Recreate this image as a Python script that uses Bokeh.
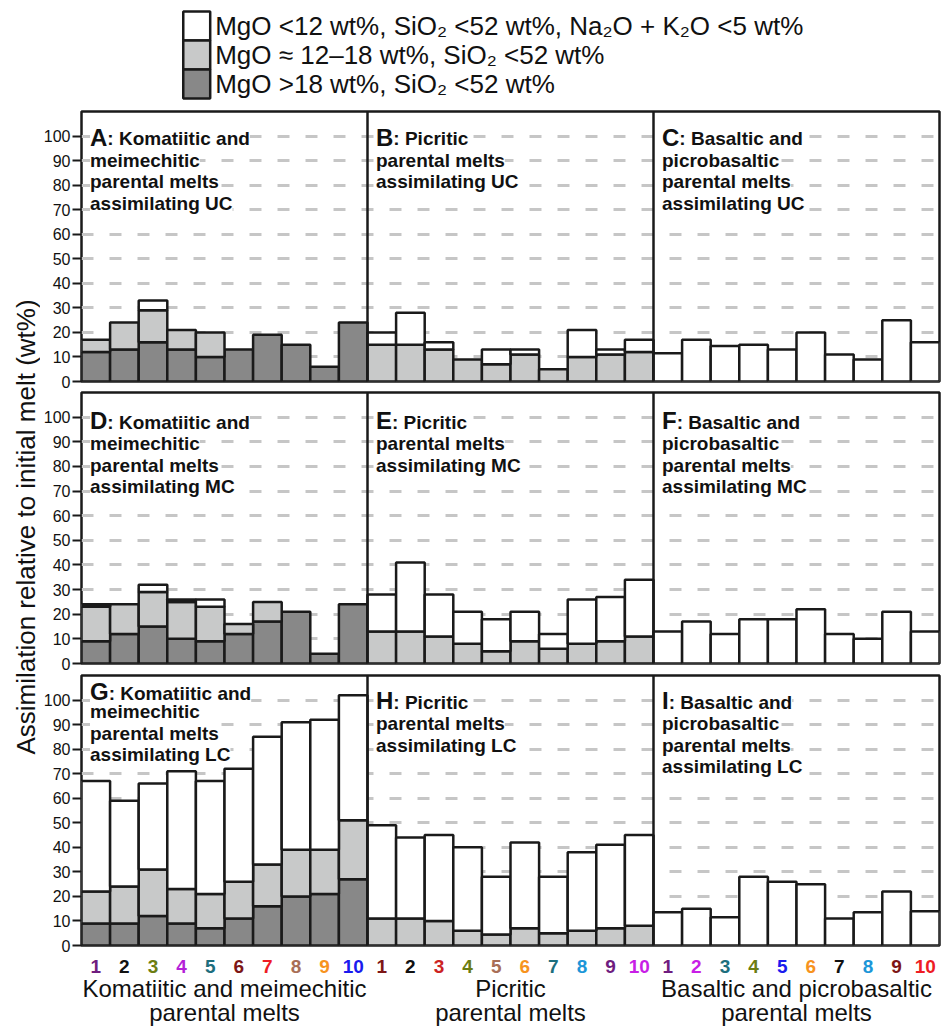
import numpy as np
from bokeh.plotting import figure
from bokeh.layouts import column, row
from bokeh.models import Range1d, FixedTicker, ColumnDataSource, Span, Label
from bokeh.core.properties import value
from bokeh.embed import file_html
from bokeh.resources import INLINE

# ---------------- data ----------------
legend_labels = [
    "MgO <12 wt%, SiO\u2082 <52 wt%, Na\u2082O + K\u2082O <5 wt%",
    "MgO \u2248 12\u201318 wt%, SiO\u2082 <52 wt%",
    "MgO >18 wt%, SiO\u2082 <52 wt%",
]
layer_colors = ["white", "#c8c9c9", "#888888"]

tick_labels = [str(i) for i in range(1, 11)]
group_line1 = ["Komatiitic and meimechitic", "Picritic", "Basaltic and picrobasaltic"]
group_line2 = ["parental melts", "parental melts", "parental melts"]

PURPLE, BLACK, OLIVE, VIOLET, TEAL = "#6f1d7f", "#111111", "#6b7d12", "#b41fd8", "#1d6e7d"
MAROON, RED, TAN, ORANGE, BLUE = "#7d1616", "#ee1c24", "#a86e56", "#f7931e", "#1a1aee"
LBLUE, MAGENTA, RED2 = "#1c96d8", "#c81ee6", "#cc2222"
tick_colors_kom = [PURPLE, BLACK, OLIVE, VIOLET, TEAL, MAROON, RED, TAN, ORANGE, BLUE]
tick_colors_pic = [MAROON, BLACK, RED2, OLIVE, TAN, ORANGE, TEAL, LBLUE, PURPLE, MAGENTA]
tick_colors_bas = [PURPLE, MAGENTA, TEAL, OLIVE, BLUE, ORANGE, BLACK, LBLUE, MAROON, RED]

# layer thicknesses (wt%): dark (MgO>18), light (MgO 12-18), white (MgO<12)
A_dark = [12, 13, 16, 13, 10, 13, 19, 15, 6, 24]
A_light = [5, 11, 13, 8, 10, 0, 0, 0, 0, 0]
A_white = [0, 0, 4, 0, 0, 0, 0, 0, 0, 0]
B_dark = [0] * 10
B_light = [15, 15, 13, 9, 7, 11, 5, 10, 11, 12]
B_white = [5, 13, 3, 0, 6, 2, 0, 11, 2, 5]
C_dark = [0] * 10
C_light = [0] * 10
C_white = [11.5, 17, 14.5, 15, 13, 20, 11, 9, 25, 16]

D_dark = [9, 12, 15, 10, 9, 12, 17, 21, 4, 24]
D_light = [14, 12, 14, 15, 14, 4, 8, 0, 0, 0]
D_white = [1, 0, 3, 1, 3, 0, 0, 0, 0, 0]
E_dark = [0] * 10
E_light = [13, 13, 11, 8, 5, 9, 6, 8, 9, 11]
E_white = [15, 28, 17, 13, 13, 12, 6, 18, 18, 23]
F_dark = [0] * 10
F_light = [0] * 10
F_white = [13, 17, 12, 18, 18, 22, 12, 10, 21, 13]

G_dark = [9, 9, 12, 9, 7, 11, 16, 20, 21, 27]
G_light = [13, 15, 19, 14, 14, 15, 17, 19, 18, 24]
G_white = [45, 35, 35, 48, 46, 46, 52, 52, 53, 51]
H_dark = [0] * 10
H_light = [11, 11, 10, 6, 4.5, 7, 5, 6, 7, 8]
H_white = [38, 33, 35, 34, 23.5, 35, 23, 32, 34, 37]
I_dark = [0] * 10
I_light = [0] * 10
I_white = [13.5, 15, 11.5, 28, 26, 25, 11, 13.5, 22, 14]

titles = {
    "A": ["Komatiitic and", "meimechitic", "parental melts", "assimilating UC"],
    "B": ["Picritic", "parental melts", "assimilating UC"],
    "C": ["Basaltic and", "picrobasaltic", "parental melts", "assimilating UC"],
    "D": ["Komatiitic and", "meimechitic", "parental melts", "assimilating MC"],
    "E": ["Picritic", "parental melts", "assimilating MC"],
    "F": ["Basaltic and", "picrobasaltic", "parental melts", "assimilating MC"],
    "G": ["Komatiitic and", "meimechitic", "parental melts", "assimilating LC"],
    "H": ["Picritic", "parental melts", "assimilating LC"],
    "I": ["Basaltic and", "picrobasaltic", "parental melts", "assimilating LC"],
}
y_ticks = list(range(0, 101, 10))
y_axis_label = "Assimilation relative to initial melt (wt%)"

# ---------------- layout constants ----------------
FONT = value("Liberation Sans")
LAB_W = 40
BL, BR = 39, 10
FRAME_W = 860
FIG_W = BL + FRAME_W + BR
OUT = "#1a1a1a"
LW = 2.5
MID = 0.345  # baseline -> em-box middle, in em
LETTER_W = {"A": 722, "B": 722, "C": 722, "D": 722, "E": 667, "F": 611, "G": 778, "H": 722, "I": 278}


def make_row(panels, top_b, bot_b, frame_h, line_offsets_list, y_end=110):
    p = figure(width=FIG_W, height=top_b + frame_h + bot_b, x_range=Range1d(0, 30),
               y_range=Range1d(0, y_end),
               output_backend="svg", toolbar_location=None, x_axis_location=None,
               min_border_left=BL, min_border_right=BR, min_border_top=top_b, min_border_bottom=bot_b)
    p.outline_line_color = OUT
    p.outline_line_width = LW
    p.xgrid.visible = False
    p.ygrid.ticker = FixedTicker(ticks=y_ticks[1:])
    p.ygrid.grid_line_color = "#c6c6c6"
    p.ygrid.grid_line_width = 3
    p.ygrid.grid_line_dash = "12 16"
    ax = p.yaxis[0]
    ax.ticker = FixedTicker(ticks=y_ticks)
    ax.axis_line_color = None
    ax.major_tick_out = 9
    ax.major_tick_in = 0
    ax.major_tick_line_width = 2
    ax.major_tick_line_color = OUT
    ax.minor_tick_line_color = None
    ax.major_label_standoff = 2
    ax.major_label_text_font = "Liberation Sans"
    ax.major_label_text_font_size = "16px"
    ax.major_label_text_color = "#111111"

    for k, (letter, layers) in enumerate(panels):
        bottoms = np.zeros(10)
        for layer, color in zip(layers, [layer_colors[2], layer_colors[1], layer_colors[0]]):
            vals = np.array(layer, dtype=float)
            idx = np.nonzero(vals > 0)[0]
            if len(idx):
                src = ColumnDataSource(dict(left=k * 10 + idx, right=k * 10 + idx + 1.0,
                                            bottom=bottoms[idx], top=bottoms[idx] + vals[idx]))
                p.quad(left="left", right="right", bottom="bottom", top="top", source=src,
                       fill_color=color, line_color=OUT, line_width=LW)
            bottoms = bottoms + vals
        # panel title (offsets are baselines below frame top, converted to em-box middles)
        lines = titles[letter]
        offs = line_offsets_list[k]
        xo = 8.5
        p.text(x=[k * 10], y=[y_end], text=[letter], x_offset=xo, y_offset=offs[0] - MID * 24,
               text_font=FONT, text_font_style="bold", text_font_size="24px",
               text_baseline="middle", text_color="#111111", background_fill_color="white")
        p.text(x=[k * 10], y=[y_end], text=[": " + lines[0]],
               x_offset=xo + LETTER_W[letter] * 24 / 1000.0, y_offset=offs[0] - MID * 19,
               text_font=FONT, text_font_style="bold", text_font_size="19px",
               text_baseline="middle", text_color="#111111", background_fill_color="white")
        for j, ln in enumerate(lines[1:], start=1):
            p.text(x=[k * 10], y=[y_end], text=[ln], x_offset=xo, y_offset=offs[j] - MID * 19,
                   text_font=FONT, text_font_style="bold", text_font_size="19px",
                   text_baseline="middle", text_color="#111111", background_fill_color="white")
    for xs in (10, 20):
        p.add_layout(Span(location=xs, dimension="height", line_color=OUT, line_width=LW))
    p.background_fill_color = "white"
    p.border_fill_color = "white"
    return p


r1_off = [34, 55.5, 77, 98.5]
r2_off = [36.5, 58, 79.5, 101]
# page rows: legend 0-106, row1 frame 111-381, row2 frame 392-663, row3 frame 675-945
row1 = make_row([("A", (A_dark, A_light, A_white)), ("B", (B_dark, B_light, B_white)),
                 ("C", (C_dark, C_light, C_white))], 5, 9, 270, [r1_off, r1_off, r1_off])
row2 = make_row([("D", (D_dark, D_light, D_white)), ("E", (E_dark, E_light, E_white)),
                 ("F", (F_dark, F_light, F_white))], 2, 9, 271, [r2_off, r2_off, r2_off])
row3 = make_row([("G", (G_dark, G_light, G_white)), ("H", (H_dark, H_light, H_white)),
                 ("I", (I_dark, I_light, I_white))], 3, 9, 270,
                [[24.5, 43, 64.5, 86], [33.5, 55, 76.5], [33.5, 55, 76.5, 98]])

# ---------------- legend figure (frame aligned with rows: x = px from frame left) ----------------
LEG_H = 106
leg = figure(width=FIG_W, height=LEG_H, x_range=Range1d(0, FRAME_W), y_range=Range1d(0, LEG_H),
             output_backend="svg", toolbar_location=None, x_axis_location=None, y_axis_location=None,
             min_border_left=BL, min_border_right=BR, min_border_top=0, min_border_bottom=0)
leg.outline_line_color = None
leg.grid.visible = False
box_top = [LEG_H - 11 - 29 * i for i in range(3)]
leg.quad(left=102, right=129, top=box_top, bottom=[t - 29 for t in box_top],
         fill_color=layer_colors, line_color=OUT, line_width=LW)
leg.text(x=134, y=[t - 14.5 for t in box_top], text=legend_labels, text_font=FONT,
         text_font_size="26px", text_baseline="middle", text_color="#111111")

# ---------------- bottom labels figure ----------------
BOT_H = 73
TOT_H = LEG_H + row1.height + row2.height + row3.height + BOT_H
bot = figure(width=FIG_W, height=BOT_H, x_range=Range1d(0, 30),
             y_range=Range1d(0, BOT_H), output_backend="svg", toolbar_location=None,
             x_axis_location=None, y_axis_location=None,
             min_border_left=BL, min_border_right=BR, min_border_top=0, min_border_bottom=0)
bot.outline_line_color = None
bot.grid.visible = False
xs = [k * 10 + i + 0.5 for k in range(3) for i in range(10)]
bsrc = ColumnDataSource(dict(x=xs, y=[TOT_H - (972.5 - MID * 19)] * 30, t=tick_labels * 3,
                             c=tick_colors_kom + tick_colors_pic + tick_colors_bas))
bot.text(x="x", y="y", text="t", text_color="c", source=bsrc, text_font=FONT, text_font_style="bold",
         text_font_size="19px", text_align="center", text_baseline="middle")
for k in range(3):
    for txt, page_y in ((group_line1[k], 996), (group_line2[k], 1020)):
        bot.add_layout(Label(x=k * 10 + 5, y=TOT_H - (page_y - MID * 24), text=txt,
                             text_font="Liberation Sans", text_font_size="24px",
                             text_align="center", text_baseline="middle", text_color="#111111"))

# ---------------- y-axis label figure ----------------
lab = figure(width=LAB_W, height=TOT_H, x_range=Range1d(0, LAB_W), y_range=Range1d(0, TOT_H),
             output_backend="svg", toolbar_location=None, x_axis_location=None, y_axis_location=None,
             min_border_left=0, min_border_right=0, min_border_top=0, min_border_bottom=0)
lab.outline_line_color = None
lab.grid.visible = False
lab.text(x=[25], y=[TOT_H - 526.5], text=[y_axis_label], angle=np.pi / 2, text_font=FONT,
         text_font_size="26px", text_align="center", text_baseline="middle", text_color="#111111")

layout = row(lab, column(leg, row1, row2, row3, bot, spacing=0), spacing=0)
open("out.html", "w").write(file_html(layout, INLINE))
